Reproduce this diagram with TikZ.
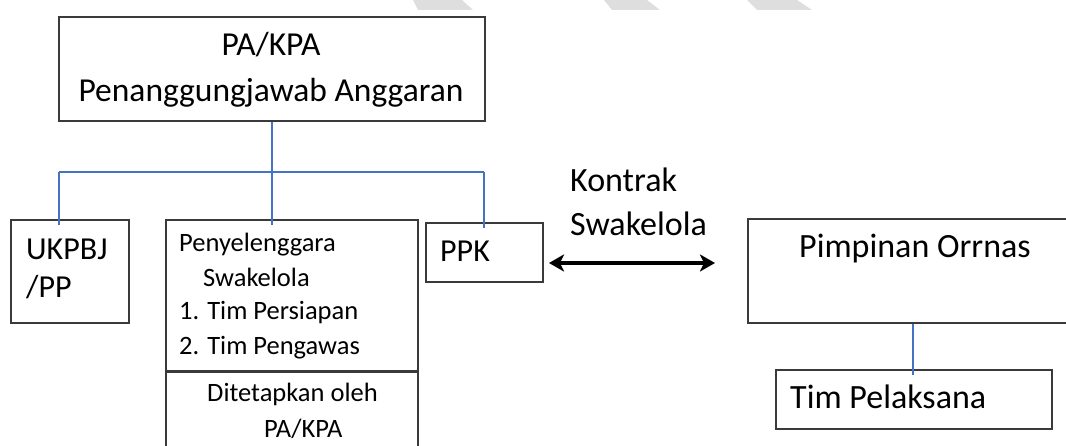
\documentclass[tikz,border=0pt]{standalone}
\usepackage{fontspec}
\setmainfont{Carlito}
\usetikzlibrary{arrows.meta}
\definecolor{conn}{HTML}{4472C4}
\definecolor{boxline}{HTML}{3A3A3A}
\definecolor{wm}{HTML}{DEDEDE}
\tikzset{
  box/.style={draw=boxline,line width=1.6pt,inner sep=0pt,anchor=north west},
  link/.style={draw=conn,line width=1.3pt},
  big/.style={font=\fontsize{34}{38}\selectfont,inner sep=0pt,anchor=base west},
  mid/.style={font=\fontsize{32}{36}\selectfont,inner sep=0pt,anchor=base west},
  bigc/.style={font=\fontsize{33.5}{38}\selectfont,inner sep=0pt,anchor=base},
  small/.style={font=\fontsize{26.5}{30}\selectfont,inner sep=0pt,anchor=base west},
}
\begin{document}
\begin{tikzpicture}[x=1pt,y=-1pt]
\useasboundingbox (0,0) rectangle (1066,446);
\clip (0,0) rectangle (1066,446);
% watermark fragments
\fill[wm] (413,0) -- (462,0) -- (473,10) -- (418,10) -- cycle;
\fill[wm] (604,0) -- (647,0) -- (660,10) -- (612,10) -- cycle;
\fill[wm] (747,0) -- (797,0) -- (812,10) -- (757,10) -- cycle;
% boxes
\node[box,minimum width=426pt,minimum height=104pt] (top) at (58,16) {};
\node[box,minimum width=118pt,minimum height=103pt] (ukp) at (10,219) {};
\node[box,minimum width=252pt,minimum height=151pt] (pen) at (165,219) {};
\node[box,minimum width=252pt,minimum height=100pt] (det) at (165,371) {};
\node[box,minimum width=117pt,minimum height=59pt] (ppk) at (425,222) {};
\node[box,minimum width=340pt,minimum height=104pt] (pim) at (747,218) {};
\node[box,minimum width=276pt,minimum height=59pt] (tim) at (775,369) {};
\draw[boxline,line width=3pt] (pen.south west) -- (pen.south east);
% texts
\node[bigc] (t1) at (271,56) {PA/KPA};
\node[bigc] (t2) at (271,102) {Penanggungjawab Anggaran};
\node[mid] (u1) at (26,260) {UKPBJ};
\node[mid] (u2) at (26,298) {/PP};
\node[small] (p1) at (179,252) {Penyelenggara};
\node[small] (p2) at (203,287) {Swakelola};
\node[small] (p3) at (179,320) {1. Tim Persiapan};
\node[small] (p4) at (179,355) {2. Tim Pengawas};
\node[small] (d1) at (207,402) {Ditetapkan oleh};
\node[small] (d2) at (264,437) {PA/KPA};
\node[mid] (k1) at (440,262) {PPK};
\node[big] (kt1) at (570,192) {Kontrak};
\node[big] (kt2) at (570,236) {Swakelola};
\node[big] (pm) at (799,258) {Pimpinan Orrnas};
\node[big] (tp) at (790,408) {Tim Pelaksana};
% connectors
\coordinate (jl) at (59,172);
\coordinate (jr) at (484,172);
\coordinate (jm) at (272,172);
\draw[link] (top.south -| jm) -- (jm);
\draw[link] (jl) -- (jr);
\draw[link] (jl) -- ([yshift=-6pt]jl |- ukp.north);
\draw[link] (jm) -- ([yshift=-6pt]jm |- pen.north);
\draw[link] (jr) -- ([yshift=-6pt]jr |- ppk.north);
\coordinate (tc) at (913,0);
\draw[link] (tc |- pim.south) -- ([yshift=-6pt]tc |- tim.north);
% contract arrow
\coordinate (al) at (549,263);
\coordinate (ar) at (715,263);
\draw[line width=4pt,{Stealth[length=15pt,width=17pt,inset=4pt]}-{Stealth[length=15pt,width=17pt,inset=4pt]}] (al) -- (ar);
\end{tikzpicture}
\end{document}
